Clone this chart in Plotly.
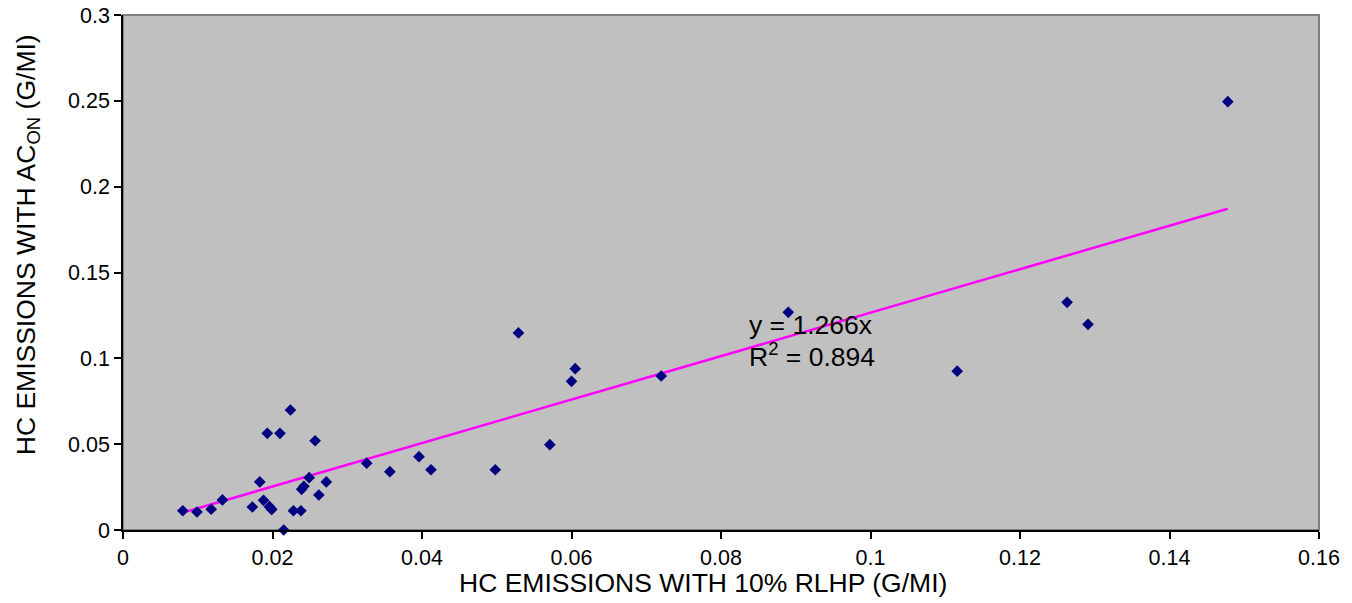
import plotly.graph_objects as go

# Data
hc_rlhp = [0.0080, 0.0099, 0.0118, 0.0133, 0.0173, 0.0183, 0.0188, 0.0193, 0.0196, 0.0198,
           0.0199, 0.0210, 0.0215, 0.0224, 0.0228, 0.0238, 0.0239, 0.0242, 0.0249, 0.0257,
           0.0262, 0.0272, 0.0326, 0.0357, 0.0396, 0.0412, 0.0498, 0.0529, 0.0571, 0.0600,
           0.0605, 0.0720, 0.0890, 0.1116, 0.1263, 0.1291, 0.1478]
hc_acon = [0.0112, 0.0105, 0.0121, 0.0175, 0.0134, 0.0280, 0.0173, 0.0563, 0.0136, 0.0124,
           0.0120, 0.0563, 0.0000, 0.0699, 0.0112, 0.0112, 0.0237, 0.0255, 0.0305, 0.0520,
           0.0204, 0.0280, 0.0389, 0.0340, 0.0427, 0.0351, 0.0351, 0.1148, 0.0497, 0.0866,
           0.0940, 0.0897, 0.1268, 0.0925, 0.1326, 0.1198, 0.2495]
trend_slope = 1.266
r_squared = 0.894

x_tickvals = [0, 0.02, 0.04, 0.06, 0.08, 0.1, 0.12, 0.14, 0.16]
x_ticktext = ["0", "0.02", "0.04", "0.06", "0.08", "0.1", "0.12", "0.14", "0.16"]
y_tickvals = [0, 0.05, 0.1, 0.15, 0.2, 0.25, 0.3]
y_ticktext = ["0", "0.05", "0.1", "0.15", "0.2", "0.25", "0.3"]
x_title = "HC EMISSIONS WITH 10% RLHP (G/MI)"
y_title = "HC EMISSIONS WITH AC<sub>ON</sub> (G/MI)"

FONT = "Liberation Sans, Arial, sans-serif"
BIG = 26.5
SMALL = 21.5

x_line = [min(hc_rlhp), max(hc_rlhp)]
y_line = [trend_slope * v for v in x_line]

fig = go.Figure()
fig.add_trace(go.Scatter(
    x=x_line, y=y_line, mode="lines",
    line=dict(color="#FF00FF", width=2.5),
    showlegend=False, hoverinfo="skip", cliponaxis=False,
))
fig.add_trace(go.Scatter(
    x=hc_rlhp, y=hc_acon, mode="markers",
    marker=dict(symbol="diamond", size=9, color="#000080",
                line=dict(width=0)),
    showlegend=False, cliponaxis=False,
))

fig.add_annotation(
    x=0.0835, y=0.1192, xref="x", yref="y",
    text=f"y = {trend_slope:.3f}x", showarrow=False,
    xanchor="left", yanchor="middle",
    font=dict(family=FONT, size=BIG, color="black"),
)
fig.add_annotation(
    x=0.0835, y=0.1020, xref="x", yref="y",
    text=f"R<sup>2</sup> = {r_squared:.3f}", showarrow=False,
    xanchor="left", yanchor="middle",
    font=dict(family=FONT, size=BIG, color="black"),
)

# axis titles placed as in the reference (slightly off-centre)
fig.add_annotation(
    x=0.485, y=-0.102, xref="paper", yref="paper",
    text=x_title, showarrow=False, xanchor="center", yanchor="middle",
    font=dict(family=FONT, size=BIG, color="black"),
)
fig.add_annotation(
    x=-0.0794, y=0.553, xref="paper", yref="paper",
    text=y_title, showarrow=False, xanchor="center", yanchor="middle",
    textangle=-90,
    font=dict(family=FONT, size=BIG, color="black"),
)

# gray frame on top/right of the plot area
fig.add_shape(type="rect", xref="paper", yref="paper", x0=0, y0=0, x1=1, y1=1,
              line=dict(color="#808080", width=2), fillcolor="rgba(0,0,0,0)",
              layer="below")

fig.update_layout(
    width=1352, height=603,
    margin=dict(l=123, r=33, t=15, b=73),
    paper_bgcolor="white",
    plot_bgcolor="#C0C0C0",
    font=dict(family=FONT, size=SMALL, color="black"),
    showlegend=False,
)
fig.update_xaxes(
    range=[0, 0.16], tickvals=x_tickvals, ticktext=x_ticktext,
    automargin=False,
    showgrid=False, zeroline=False,
    showline=True, linecolor="black", linewidth=1.5,
    ticks="outside", ticklen=7, tickcolor="black", tickwidth=1.5,
    tickfont=dict(family=FONT, size=SMALL, color="black"),
)
fig.update_yaxes(
    range=[0, 0.3], tickvals=y_tickvals, ticktext=y_ticktext,
    automargin=False,
    showgrid=False, zeroline=False,
    showline=True, linecolor="black", linewidth=1.5,
    ticks="outside", ticklen=7, tickcolor="black", tickwidth=1.5,
    tickfont=dict(family=FONT, size=SMALL, color="black"),
)

fig.write_html(
    "out.html",
    config={"displayModeBar": False},
    post_script="document.body.style.margin='0';document.body.style.overflow='hidden';",
)
